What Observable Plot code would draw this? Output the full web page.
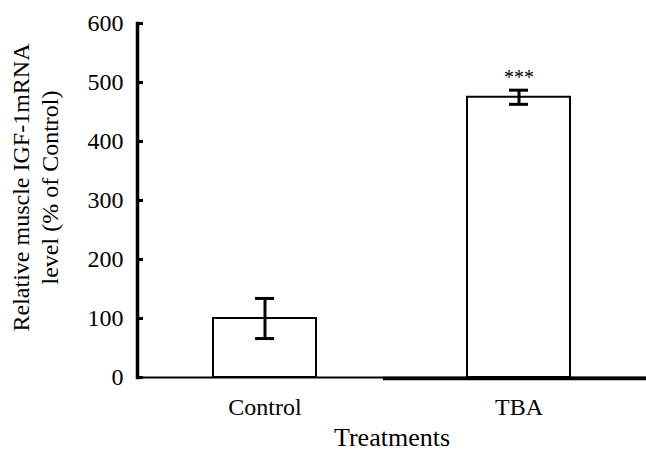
<!DOCTYPE html>
<html>
<head>
<meta charset="utf-8">
<script src="https://cdn.jsdelivr.net/npm/d3@7"></script>
<script src="https://cdn.jsdelivr.net/npm/@observablehq/plot@0.6"></script>
<style>
  html, body { margin: 0; padding: 0; background: #fff; }
</style>
</head>
<body>
<div id="chart"></div>
<script>
const categories = ["Control", "TBA"];
const means = [100, 475];
const errors = [34, 12];
const significance = ["", "***"];
const yTicks = [0, 100, 200, 300, 400, 500, 600];
const yLabel = "Relative muscle IGF-1mRNA\nlevel (% of Control)";
const xLabel = "Treatments";

const data = categories.map((c, i) => ({
  cat: c, mean: means[i], lo: means[i] - errors[i], hi: means[i] + errors[i], sig: significance[i]
}));

const chart = Plot.plot({
  width: 646,
  height: 457,
  marginLeft: 137,
  marginRight: 0,
  marginTop: 23,
  marginBottom: 80,
  style: { fontFamily: "Liberation Serif", fontSize: "24px", color: "#000", background: "#fff" },
  x: { domain: categories, paddingInner: 0.595, paddingOuter: 0.297 },
  y: { domain: [0, 600] },
  marks: [
    Plot.barY(data, { x: "cat", y: "mean", fill: "white", stroke: "black", strokeWidth: 2 }),
    Plot.ruleX(data, { x: "cat", y1: "lo", y2: "hi", stroke: "black", strokeWidth: 3 }),
    Plot.tickY(data, { x: "cat", y: "lo", stroke: "black", strokeWidth: 3, inset: 42 }),
    Plot.tickY(data, { x: "cat", y: "hi", stroke: "black", strokeWidth: 3, inset: 42 }),
    Plot.text(data, { x: "cat", y: "hi", text: "sig", fontSize: 20, lineAnchor: "bottom", dy: -6, fill: "black" }),
    Plot.ruleY([0], { stroke: "black", strokeWidth: 2 }),
    Plot.tickY([categories[1]], { x: d => d, y: () => 0, stroke: "black", strokeWidth: 3.5, dy: 1, insetLeft: -84, insetRight: -77 }),
    Plot.frame({ anchor: "left", stroke: "black", strokeWidth: 3.5 }),
    Plot.axisY({ ticks: yTicks, tickSize: -6, tickPadding: 20, strokeWidth: 3, label: null, fontSize: 24, tickFormat: d => String(d) }),
    Plot.axisX({ tickSize: 0, tickPadding: 20, label: null, fontSize: 24 }),
    Plot.text([xLabel], { frameAnchor: "bottom", dy: 60, fontSize: 26, lineAnchor: "middle", fill: "black" }),
    Plot.text([yLabel], { frameAnchor: "left", rotate: -90, dx: -103, dy: -13, fontSize: 24, lineHeight: 1.2, textAnchor: "middle", lineAnchor: "middle", fill: "black" })
  ]
});
document.getElementById("chart").appendChild(chart);
</script>
</body>
</html>
